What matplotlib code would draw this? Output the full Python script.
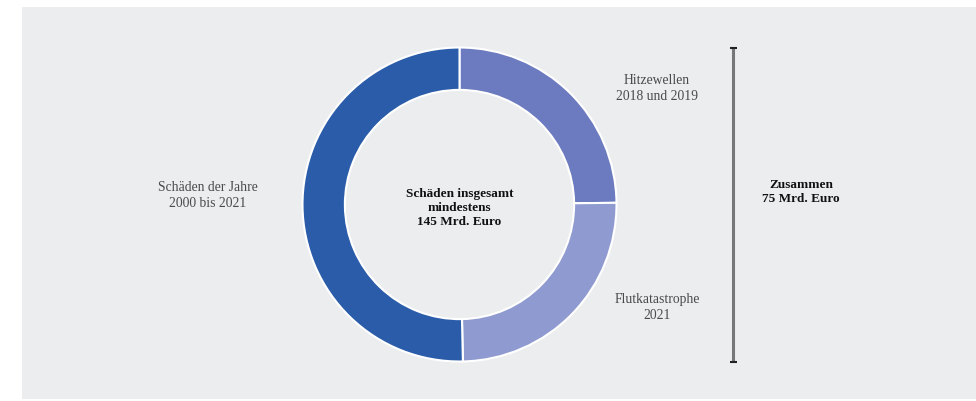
import matplotlib
matplotlib.use("Agg")
import matplotlib.pyplot as plt
from matplotlib.patches import Rectangle

# values (Mrd. Euro)
labels = ["Hitzewellen\n2018 und 2019", "Flutkatastrophe\n2021", "Schäden der Jahre\n2000 bis 2021"]
values = [36, 36, 73]
colors = ["#6c7bbf", "#8f9bd0", "#2a5caa"]
center_text = "Schäden insgesamt\nmindestens\n145 Mrd. Euro"
bracket_text = "Zusammen\n75 Mrd. Euro"

W, H = 976, 401
plt.rcParams["font.family"] = ["Liberation Serif", "DejaVu Serif"]

fig = plt.figure(figsize=(W / 100, H / 100), dpi=100)
fig.patch.set_facecolor("white")
ax = fig.add_axes([0, 0, 1, 1])


def py(y):
    # pixel row -> data y
    return H - y


ax.add_patch(Rectangle((22, py(399)), W - 22, 392, facecolor="#ecedef", edgecolor="none", zorder=0))

cx, cy, r = 459.5, py(204.5), 157
ax.pie(values, colors=colors, startangle=90, counterclock=False, center=(cx, cy), radius=r,
       wedgeprops=dict(width=r * 0.27, edgecolor="white", linewidth=1.5), frame=True)
ax.set_xlim(0, W)
ax.set_ylim(0, H)
ax.set_aspect("equal")
ax.axis("off")

label_pos = [(656.5, 88.5), (657, 307.5), (208, 195.5)]
for text, (x, y) in zip(labels, label_pos):
    ax.text(x, py(y), text, ha="center", va="center", fontsize=9.8, color="#4a4a4a", linespacing=1.3)

ax.text(cx, py(208), center_text, ha="center", va="center", fontsize=9.5, fontweight="bold",
        color="#111111", linespacing=1.25)

# bracket
ax.plot([733, 733], [py(48), py(362)], color="#777777", linewidth=2.2, solid_capstyle="butt")
for y in (48, 362):
    ax.plot([730, 737], [py(y), py(y)], color="#222222", linewidth=1.5, solid_capstyle="butt")
ax.text(801, py(192), bracket_text, ha="center", va="center", fontsize=9.5, fontweight="bold",
        color="#111111", linespacing=1.25)

fig.savefig("out.png", dpi=100, facecolor=fig.get_facecolor())
